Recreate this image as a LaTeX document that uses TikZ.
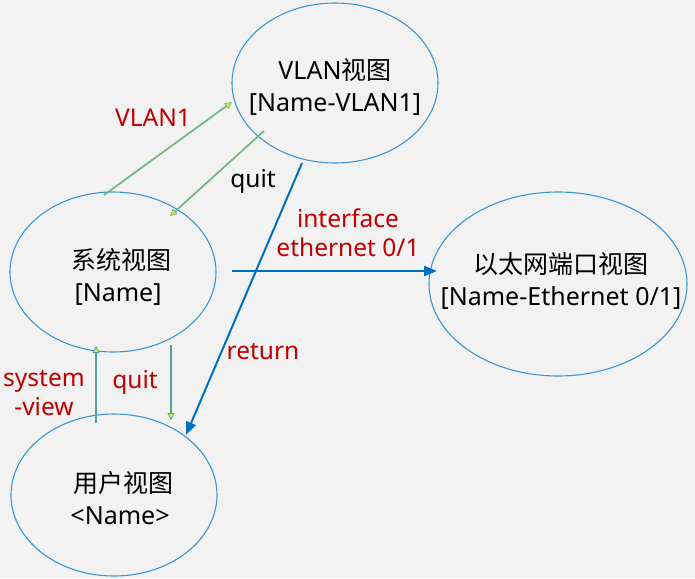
\documentclass[tikz,border=0pt]{standalone}
\usepackage{fontspec}
\setmainfont{Noto Sans}
\newfontfamily\cjk{Noto Sans CJK SC}
\usetikzlibrary{shapes.geometric,arrows.meta}
\definecolor{bg}{RGB}{242,242,242}
\definecolor{ellblue}{RGB}{60,150,210}
\definecolor{arrblue}{RGB}{0,112,192}
\definecolor{labred}{RGB}{192,0,0}
\definecolor{diaggreen}{RGB}{115,185,135}
\definecolor{vteal}{RGB}{80,160,160}
\definecolor{tipyellow}{RGB}{230,240,40}
\tikzset{
  view/.style={draw=ellblue,line width=1.1pt,ellipse,inner sep=0pt},
  viewtext/.style={inner sep=0pt,align=center,font=\fontsize{25}{32}\selectfont},
  lab/.style={inner sep=0pt,align=center,font=\fontsize{24.5}{29}\selectfont},
  redlab/.style={lab,text=labred},
  greenarrow/.style={line width=1.8pt,
    -{Triangle[length=7pt,width=7pt,fill=tipyellow,line width=0.8pt]}},
  bluearrow/.style={draw=arrblue,line width=2pt,
    -{Triangle[length=13pt,width=10pt,fill=arrblue]}},
}
\begin{document}
\begin{tikzpicture}[x=1pt,y=-1pt]
\fill[bg] (0,0) rectangle (695,578);
\useasboundingbox (0,0) rectangle (695,578);

\node[view,minimum width=206pt,minimum height=160pt,
  label={[viewtext,yshift=-4pt]center:VLAN{\cjk 视图}\\{}{[}Name-VLAN1{]}}] (vlan) at (335,83) {};
\node[view,minimum width=206pt,minimum height=160pt,
  label={[viewtext,xshift=5pt,yshift=-5pt]center:\hspace*{6pt}{\cjk 系统视图}\\{}{[}Name{]}}] (sys) at (113,272) {};
\node[view,minimum width=206pt,minimum height=162pt,
  label={[viewtext,xshift=6pt,yshift=-3pt]center:\hspace*{6pt}{\cjk 用户视图}\\{}<Name>}] (user) at (114,495) {};
\node[view,minimum width=258pt,minimum height=184pt,
  label={[viewtext,xshift=3pt,yshift=3pt]center:{\cjk 以太网端口视图}\\{}{[}Name-Ethernet 0/1{]}}] (eth) at (558,284) {};

% connectors
\draw[greenarrow,draw=diaggreen] ([shift={(-9,-77)}]sys.center) -- ([shift={(-103,19)}]vlan.center);
\draw[greenarrow,draw=diaggreen] ([shift={(-71,48)}]vlan.center) -- ([shift={(57,-56)}]sys.center);
\draw[bluearrow] ([shift={(119,-1)}]sys.center) -- ([shift={(-121,-13)}]eth.center);
\draw[bluearrow] ([shift={(-33,80)}]vlan.center) -- ([shift={(72,-60)}]user.center);
\draw[greenarrow,draw=vteal] ([shift={(-18,-72)}]user.center) -- ([shift={(-17,74)}]sys.center);
\draw[greenarrow,draw=vteal] ([shift={(58,73)}]sys.center) -- ([shift={(57,-75)}]user.center);

% labels
\node[redlab] (lvlan1) at (153,118) {VLAN1};
\node[lab] (lquit1) at (253,181) {quit};
\node[redlab] (lif) at (348,233) {interface\\ethernet 0/1};
\node[redlab] (lret) at (263,352) {return};
\node[redlab] (lsv) at (44,393) {system\\-view};
\node[redlab] (lquit2) at (135,382) {quit};
\end{tikzpicture}
\end{document}
